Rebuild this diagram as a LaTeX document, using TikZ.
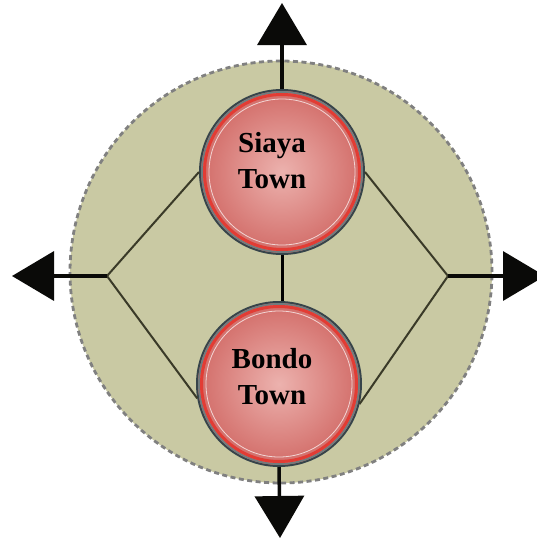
\documentclass[tikz,border=0pt]{standalone}
\usepackage{fontspec}
\setmainfont{Liberation Serif}
\usetikzlibrary{arrows.meta}
\definecolor{areafill}{RGB}{201,201,163}
\definecolor{areaedge}{RGB}{128,128,128}
\definecolor{linkc}{RGB}{58,58,40}
\definecolor{stemc}{RGB}{10,10,8}
\definecolor{ringdark}{RGB}{55,68,74}
\definecolor{ringgray}{RGB}{112,124,126}
\definecolor{ringred}{RGB}{226,60,52}
\definecolor{pinkin}{RGB}{236,178,174}
\definecolor{pinkout}{RGB}{210,108,104}
\begin{document}
\begin{tikzpicture}[x=1pt,y=-1pt,
  area/.style={circle, minimum size=422pt, inner sep=0pt, fill=areafill, draw=areaedge, line width=2.8pt, dash pattern=on 5pt off 3.5pt},
  town/.style={circle, minimum size=164pt, inner sep=0pt, draw=ringdark, line width=2pt, inner color=pinkin, outer color=pinkout},
  ringg/.style={draw=ringgray, line width=1.8pt},
  ringr/.style={draw=ringred, line width=3pt},
  ringw/.style={draw=white, line width=0.8pt, opacity=0.7},
  link/.style={draw=linkc, line width=2pt},
  joiner/.style={draw=black, line width=3pt},
  stem/.style={draw=stemc, line width=3.5pt, -{Triangle[width=49pt,length=42pt]}},
  label/.style={font=\bfseries\fontsize{29}{36}\selectfont, align=center, inner sep=0pt, text=black}]
\useasboundingbox (0,0) rectangle (537,542);
\node[area] (zone) at (281,272) {};
\coordinate (L) at (107,276);
\coordinate (R) at (448,276);
\coordinate (tipN) at (282,3);
\coordinate (tipS) at (280,538);
\coordinate (tipW) at (12,276);
\coordinate (tipE) at (545,276);
\node[town] (siaya) at (282,172) {};
\node[town] (bondo) at (279,384) {};
\draw[ringg] (siaya.center) circle (80);
\draw[ringr] (siaya.center) circle (77.5);
\draw[ringw] (siaya.center) circle (73);
\draw[ringg] (bondo.center) circle (80);
\draw[ringr] (bondo.center) circle (77.5);
\draw[ringw] (bondo.center) circle (73);
\draw[link] (L) -- (siaya.180);
\draw[link] (L) -- (bondo.190);
\draw[link] (R) -- (siaya.0);
\draw[link] (R) -- (bondo.346);
\draw[joiner] (siaya.south) -- (bondo.north -| siaya.south);
\draw[stem] (siaya.north) -- (tipN);
\draw[stem] (bondo.south) -- (tipS);
\draw[stem] (L) -- (tipW);
\draw[stem] (R) -- (tipE);
\node[label] (siayat) at (272,161) {Siaya\\Town};
\node[label] (bondot) at (272,377) {Bondo\\Town};
\end{tikzpicture}
\end{document}
